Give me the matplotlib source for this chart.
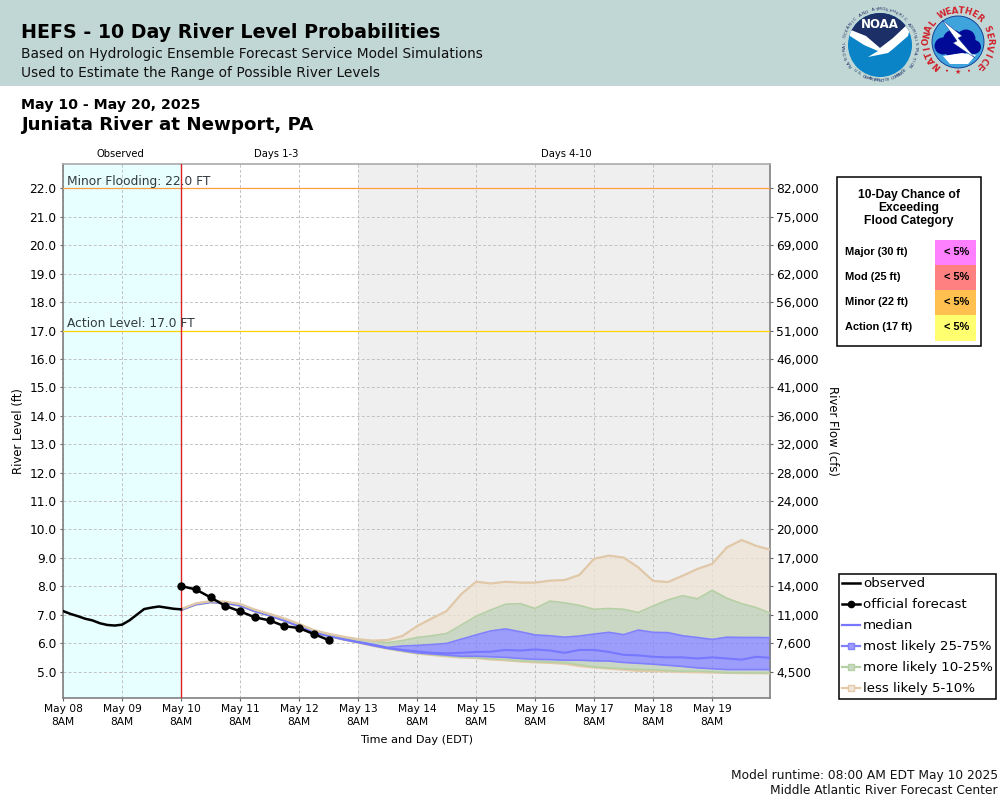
import numpy as np
import matplotlib
matplotlib.use('Agg')
import matplotlib.pyplot as plt
from matplotlib.lines import Line2D
from matplotlib.patches import Circle, Polygon, Rectangle

# ---------- data ----------
observed = [7.13,7.03,6.95,6.86,6.80,6.70,6.64,6.62,6.65,6.80,7.00,7.20,7.25,7.29,7.25,7.21,7.19]
forecast = [8.01,7.89,7.61,7.31,7.12,6.91,6.80,6.60,6.53,6.32,6.11]
tan_top = [7.20,7.40,7.48,7.46,7.38,7.18,7.03,6.87,6.68,6.46,6.33,6.23,6.14,
           6.09,6.11,6.25,6.60,6.87,7.13,7.73,8.16,8.10,8.16,8.13,8.13,8.20,8.22,
           8.40,8.97,9.08,9.01,8.66,8.19,8.15,8.37,8.61,8.79,9.37,9.63,9.42,9.28]
green_top = [7.19,7.39,7.47,7.45,7.37,7.17,7.02,6.86,6.66,6.44,6.31,6.21,6.11,
             6.07,6.02,6.09,6.20,6.26,6.34,6.64,6.95,7.17,7.37,7.39,7.22,7.48,7.42,
             7.33,7.19,7.22,7.19,7.08,7.31,7.52,7.67,7.56,7.86,7.58,7.39,7.25,7.04]
blue_top = [7.18,7.38,7.46,7.43,7.35,7.15,7.00,6.83,6.63,6.41,6.28,6.17,6.05,
            5.96,5.85,5.90,5.92,5.95,5.99,6.14,6.29,6.43,6.50,6.40,6.29,6.26,6.21,
            6.25,6.32,6.38,6.30,6.46,6.38,6.37,6.26,6.20,6.13,6.21,6.20,6.20,6.19]
median = [7.17,7.37,7.45,7.42,7.33,7.13,6.98,6.80,6.60,6.38,6.26,6.14,6.04,
          5.93,5.83,5.76,5.71,5.66,5.64,5.66,5.69,5.70,5.76,5.74,5.78,5.74,5.66,
          5.76,5.76,5.69,5.59,5.57,5.52,5.50,5.50,5.46,5.50,5.46,5.42,5.52,5.48]
blue_bot = [7.17,7.36,7.44,7.41,7.32,7.12,6.97,6.79,6.59,6.37,6.25,6.13,6.03,
            5.92,5.82,5.74,5.66,5.62,5.58,5.54,5.54,5.52,5.50,5.46,5.43,5.42,5.40,
            5.40,5.38,5.37,5.32,5.29,5.26,5.22,5.18,5.13,5.10,5.07,5.07,5.07,5.07]
green_bot = [7.16,7.35,7.43,7.40,7.31,7.11,6.96,6.78,6.58,6.36,6.24,6.12,6.02,
             5.91,5.81,5.72,5.64,5.60,5.55,5.51,5.49,5.45,5.42,5.38,5.35,5.33,5.31,
             5.24,5.16,5.13,5.10,5.07,5.06,5.03,5.01,5.01,4.99,4.96,4.96,4.95,4.94]
tan_bot = [7.16,7.35,7.43,7.40,7.31,7.11,6.96,6.78,6.58,6.36,6.24,6.12,6.01,
           5.90,5.80,5.71,5.63,5.58,5.53,5.49,5.47,5.42,5.39,5.35,5.32,5.30,5.27,
           5.19,5.14,5.10,5.06,5.02,5.01,5.00,4.98,4.97,4.96,4.95,4.94,4.94,4.93]

level_ticks = [5,6,7,8,9,10,11,12,13,14,15,16,17,18,19,20,21,22]
flow_labels = ['4,500','7,600','11,000','14,000','17,000','20,000','24,000','28,000','32,000',
               '36,000','41,000','46,000','51,000','56,000','62,000','69,000','75,000','82,000']
day_labels = ['May 08','May 09','May 10','May 11','May 12','May 13','May 14','May 15',
              'May 16','May 17','May 18','May 19']
minor_level, action_level = 22.0, 17.0
chance_rows = ['Major (30 ft)','Mod (25 ft)','Minor (22 ft)','Action (17 ft)']
chance_vals = ['< 5%','< 5%','< 5%','< 5%']
chance_cols = ['#FF80FF','#FF8080','#FFC050','#FFFF70']

W, H = 1000, 800
fig = plt.figure(figsize=(W/100, H/100), dpi=100, facecolor='white')
L, R, T, B = 63, 770, 164, 698
ax = fig.add_axes([L/W, 1-B/H, (R-L)/W, (B-T)/H])
ax.set_xlim(0, 11.98)
ax.set_ylim(4.07, 22.86)

# background zones
ax.axvspan(0, 2, color='#E8FFFF', lw=0, zorder=0)
ax.axvspan(5, 11.98, color='#EFEFEF', lw=0, zorder=0)

days = np.arange(12)
ax.set_xticks(days)
ax.set_xticklabels([d + '\n8AM' for d in day_labels], fontsize=7.7, linespacing=1.32)
ax.set_yticks(level_ticks)
ax.set_yticklabels(['%.1f' % v for v in level_ticks], fontsize=8.8)
ax.grid(True, color='#C2C2C2', lw=0.7, ls=(0, (3, 2.2)), zorder=1)
ax.set_axisbelow(True)
ax.tick_params(axis='both', length=2.5, width=0.8, color='#666666', pad=2)
for s, c in zip(['left','bottom','top','right'], ['#808080','#808080','#AAAAAA','#808080']):
    ax.spines[s].set_color(c)
    ax.spines[s].set_linewidth(1.2)

ax2 = ax.twinx()
ax2.set_ylim(ax.get_ylim())
ax2.set_yticks(level_ticks)
ax2.set_yticklabels(flow_labels, fontsize=8.8)
ax2.tick_params(axis='y', length=2.5, width=0.8, color='#666666', pad=2)
for s in ax2.spines.values():
    s.set_visible(False)

# forecast bands
t_ens = 2 + np.arange(len(median)) * 0.25
C_TAN, C_GRN, C_BLU = '#EFE3D5', '#BED0B6', '#8080FF'
ax.fill_between(t_ens, green_top, tan_top, color=C_TAN, alpha=.75, lw=0, zorder=2)
ax.fill_between(t_ens, tan_bot, green_bot, color=C_TAN, alpha=.75, lw=0, zorder=2)
ax.fill_between(t_ens, blue_top, green_top, color=C_GRN, alpha=.75, lw=0, zorder=2)
ax.fill_between(t_ens, green_bot, blue_bot, color=C_GRN, alpha=.75, lw=0, zorder=2)
ax.fill_between(t_ens, blue_bot, blue_top, color=C_BLU, alpha=.75, lw=0, zorder=2)
ax.plot(t_ens, tan_bot, color='#E6C9A8', lw=1.4, zorder=3)
ax.plot(t_ens, green_bot, color='#B5D0A5', lw=1.2, zorder=3)
ax.plot(t_ens, blue_bot, color='#8080FF', lw=1.2, zorder=3.2)
ax.plot(t_ens, blue_top, color='#8080FF', lw=1.2, zorder=3.2)
ax.plot(t_ens, median, color='#7777FF', lw=1.5, zorder=3.3)
ax.plot(t_ens, green_top, color='#B5D0A5', lw=1.2, zorder=3.4)
ax.plot(t_ens, tan_top, color='#E0C8A8', lw=1.6, zorder=3.5)

# flood lines
ax.axhline(minor_level, color='#FF9E40', lw=0.9, zorder=4)
ax.axhline(action_level, color='#FFD000', lw=0.9, zorder=4)
ax.axvline(2, color='#E02020', lw=1, zorder=4)
ax.text(0.07, minor_level+0.02, 'Minor Flooding: %.1f FT' % minor_level, fontsize=8.8, color='#333A40', va='bottom', zorder=5)
ax.text(0.07, action_level+0.02, 'Action Level: %.1f FT' % action_level, fontsize=8.8, color='#333A40', va='bottom', zorder=5)

# observed / official forecast
t_obs = np.arange(len(observed)) * 0.125
t_fc = 2 + np.arange(len(forecast)) * 0.25
ax.plot(t_obs, observed, color='black', lw=1.8, zorder=6)
ax.plot(t_fc, forecast, color='black', lw=1.8, marker='o', ms=5, zorder=6)

# overlay in pixel coordinates
ov = fig.add_axes([0, 0, 1, 1], zorder=-1)
ov.set_xlim(0, W); ov.set_ylim(H, 0); ov.axis('off')
top = fig.add_axes([0, 0, 1, 1], zorder=10)
top.set_xlim(0, W); top.set_ylim(H, 0); top.axis('off'); top.patch.set_alpha(0)

ov.add_patch(Rectangle((0, 0), W, 86, color='#C1D7D5', lw=0))
top.text(21, 33, 'HEFS - 10 Day River Level Probabilities', fontsize=13.7, fontweight='bold', va='center')
top.text(21, 54, 'Based on Hydrologic Ensemble Forecast Service Model Simulations', fontsize=9.86, color='#111111', va='center')
top.text(21, 73, 'Used to Estimate the Range of Possible River Levels', fontsize=9.86, color='#111111', va='center')
top.text(21, 105, 'May 10 - May 20, 2025', fontsize=10.2, fontweight='bold', va='center')
top.text(21, 125, 'Juniata River at Newport, PA', fontsize=13.12, fontweight='bold', va='center')

top.text(120, 154, 'Observed', fontsize=7.2, ha='center', va='center')
top.text(276, 154, 'Days 1-3', fontsize=7.2, ha='center', va='center')
top.text(566, 154, 'Days 4-10', fontsize=7.2, ha='center', va='center')
top.text(18.5, 431, 'River Level (ft)', fontsize=8.4, rotation=90, ha='center', va='center')
top.text(832, 431, 'River Flow (cfs)', fontsize=8.4, rotation=-90, ha='center', va='center')
top.text(417, 740, 'Time and Day (EDT)', fontsize=8.1, ha='center', va='center')
top.text(998, 775, 'Model runtime: 08:00 AM EDT May 10 2025', fontsize=8.84, ha='right', va='center', color='#111111')
top.text(998, 791, 'Middle Atlantic River Forecast Center', fontsize=8.84, ha='right', va='center', color='#111111')

# exceedance table
top.add_patch(Rectangle((836.5, 176.5), 144, 169, fc='white', ec='black', lw=1.1))
for i, line in enumerate(['10-Day Chance of', 'Exceeding', 'Flood Category']):
    top.text(909, 195 + 13*i, line, fontsize=8.7, fontweight='bold', family='Liberation Sans', ha='center', va='center')
for i, (r, v, c) in enumerate(zip(chance_rows, chance_vals, chance_cols)):
    y0 = 240 + 25*i
    top.add_patch(Rectangle((935, y0), 41, 25 if i < 3 else 26, fc=c, lw=0))
    top.text(845, y0+12, r, fontsize=7.9, fontweight='bold', family='Liberation Sans', va='center')
    top.text(957, y0+12, v, fontsize=7.9, fontweight='bold', family='Liberation Sans', ha='center', va='center')

# legend
handles = [
    Line2D([], [], color='black', lw=1.8),
    Line2D([], [], color='black', lw=1.8, marker='o', ms=4.5),
    Line2D([], [], color='#7777FF', lw=1.6),
    Line2D([], [], color='#8080FF', lw=1.6, marker='s', ms=4.6, mfc='#9C9CFF', mec='#8080FF'),
    Line2D([], [], color='#B5D0A5', lw=1.6, marker='s', ms=4.6, mfc='#CAD8C4', mec='#B5D0A5'),
    Line2D([], [], color='#E6C9A8', lw=1.6, marker='s', ms=4.6, mfc='#EFE6DC', mec='#E6C9A8'),
]
labels = ['observed', 'official forecast', 'median', 'most likely 25-75%', 'more likely 10-25%', 'less likely 5-10%']
leg = fig.legend(handles, labels, loc='lower left', bbox_to_anchor=(839/W, 1-698.5/H), borderaxespad=0,
                 fontsize=9.6, fancybox=False, framealpha=1, edgecolor='black', handlelength=1.35,
                 handletextpad=0.2, labelspacing=0.6, borderpad=0.25)
leg.get_frame().set_linewidth(1.1)
leg.set_zorder(20)

# logos
def arc_text(tx, cx, cy, r, a0, a1, **kw):
    for ch, a in zip(tx, np.linspace(a0, a1, len(tx))):
        th = np.deg2rad(a)
        top.text(cx + r*np.sin(th), cy - r*np.cos(th), ch, rotation=-a, rotation_mode='anchor',
                 ha='center', va='center', **kw)

def arc_text_bottom(tx, cx, cy, r, a0, a1, **kw):
    for ch, a in zip(tx, np.linspace(a0, a1, len(tx))):
        th = np.deg2rad(a)
        top.text(cx + r*np.sin(th), cy - r*np.cos(th), ch, rotation=180-a, rotation_mode='anchor',
                 ha='center', va='center', **kw)

# NOAA
nx, ny = 880, 45
disc = Circle((nx, ny), 32, fc='#0A84C6', ec='none')
top.add_patch(disc)
navy = Polygon([(850, 30), (880, 52), (912, 28), (912, 5), (848, 5)], fc='#1C2F66', ec='none')
top.add_patch(navy); navy.set_clip_path(disc)
bird = Polygon([(846, 28), (866, 36), (880, 48), (893, 38), (912, 20), (908, 36), (893, 49),
                (888, 53), (868, 57), (878, 51), (864, 45), (850, 36)], fc='white', ec='none')
top.add_patch(bird); bird.set_clip_path(disc)
top.text(880, 25, 'NOAA', fontsize=8.5, fontweight='bold', color='white', ha='center', va='center')
arc_text('NATIONAL OCEANIC AND ATMOSPHERIC ADMINISTRATION', nx, ny, 35.5, -125, 125, fontsize=3.2, color='#1C2F66')
arc_text_bottom('U.S. DEPARTMENT OF COMMERCE', nx, ny, 35.5, 225, 135, fontsize=3.2, color='#1C2F66')

# NWS
wx, wy = 958, 42
top.add_patch(Circle((wx, wy), 26, fc='#3FA4DC', ec='#0A2F8F', lw=0.6))
for cx, cy, r in [(943, 46, 8.5), (953, 40, 10), (966, 39, 9.5), (974, 47, 7), (960, 48, 8), (950, 51, 5)]:
    top.add_patch(Circle((cx, cy), r, fc='#000A96', ec='none'))
top.add_patch(Polygon([(943, 56), (962, 53), (976, 55), (968, 64), (950, 64)], fc='white', ec='none'))
top.add_patch(Polygon([(942, 20), (962, 36), (958, 38), (975, 58), (953, 43), (957, 41)], fc='white', ec='#0A2F8F', lw=0.3))
arc_text('NATIONAL WEATHER SERVICE', wx, wy, 31.5, -137, 137, fontsize=6.2, fontweight='bold', color='#D0202A')
top.text(wx, 72, '★', fontsize=5, color='#D0202A', ha='center', va='center')
for dx in (-22, -11, 11, 22):
    top.add_patch(Circle((wx+dx, 72 - abs(dx)*0.12), 1, fc='#D0202A', ec='none'))

fig.savefig('out.png', dpi=100)
